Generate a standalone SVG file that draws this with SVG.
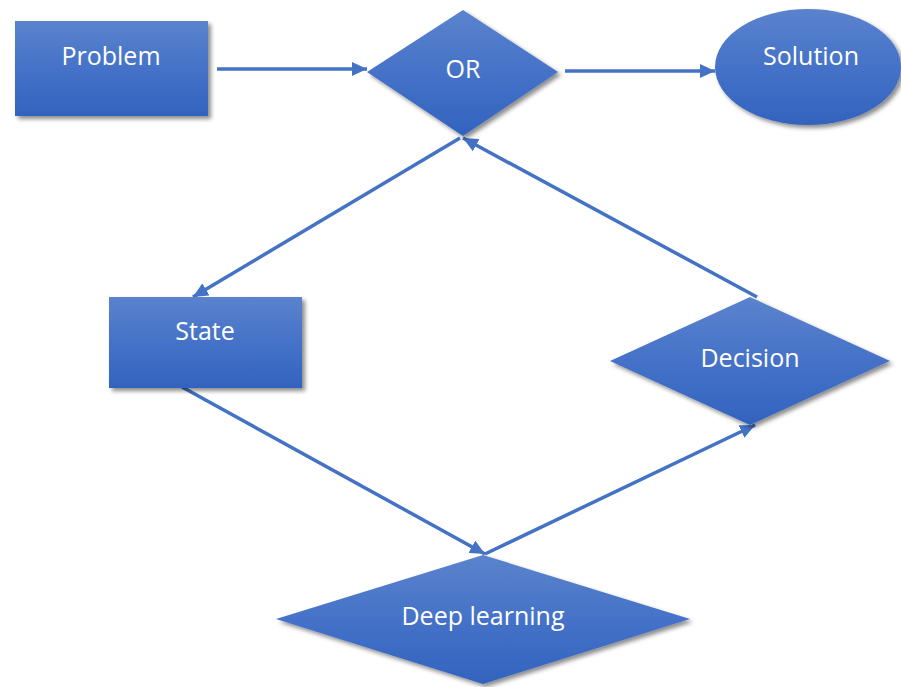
<svg xmlns="http://www.w3.org/2000/svg" width="901" height="687" viewBox="0 0 901 687">
<defs>
<linearGradient id="fillg" x1="0" y1="0" x2="0" y2="1">
<stop offset="0" stop-color="#5B83CD"/>
<stop offset="0.5" stop-color="#4572C8"/>
<stop offset="1" stop-color="#3263BE"/>
</linearGradient>
<filter id="shadow" x="-10%" y="-10%" width="125%" height="130%">
<feDropShadow dx="3" dy="3" stdDeviation="2" flood-color="#000" flood-opacity="0.45"/>
</filter>
<marker id="arrow" markerUnits="userSpaceOnUse" markerWidth="16" markerHeight="14" refX="15" refY="7" orient="auto">
<path d="M0,0 L15,7 L0,14 Z" fill="#4472C4"/>
</marker>
<style>
.shape{fill:url(#fillg);filter:url(#shadow);}
.lbl{font-family:"Open Sans","Liberation Sans",sans-serif;font-size:25px;fill:#fff;text-anchor:middle;}
.conn{stroke:#4472C4;stroke-width:3.5;fill:none;marker-end:url(#arrow);}
</style>
</defs>
<g id="connectors">
<line class="conn" x1="217" y1="69" x2="367" y2="69"/>
<line class="conn" x1="565" y1="71" x2="715" y2="71"/>
<line class="conn" x1="460" y1="138" x2="193" y2="297"/>
<line class="conn" x1="182" y1="387" x2="485" y2="554"/>
<line class="conn" x1="485" y1="554" x2="755" y2="425"/>
<line class="conn" x1="757" y1="297" x2="463" y2="138"/>
</g>
<g id="problem">
<rect class="shape" x="15" y="21" width="193" height="95"/>
<text class="lbl" x="111" y="65">Problem</text>
</g>
<g id="or">
<polygon class="shape" points="463,10 558,72 463,136 367,72"/>
<text class="lbl" x="463" y="78">OR</text>
</g>
<g id="solution">
<ellipse class="shape" cx="808" cy="67" rx="93" ry="58"/>
<text class="lbl" x="811" y="65">Solution</text>
</g>
<g id="state">
<rect class="shape" x="109" y="297" width="193" height="91"/>
<text class="lbl" x="205" y="340">State</text>
</g>
<g id="decision">
<polygon class="shape" points="750,297 890,361 750,425 610,361"/>
<text class="lbl" x="750" y="367">Decision</text>
</g>
<g id="deep-learning">
<polygon class="shape" points="483,555 690,619 483,684 276,619"/>
<text class="lbl" x="483" y="625">Deep learning</text>
</g>
</svg>
